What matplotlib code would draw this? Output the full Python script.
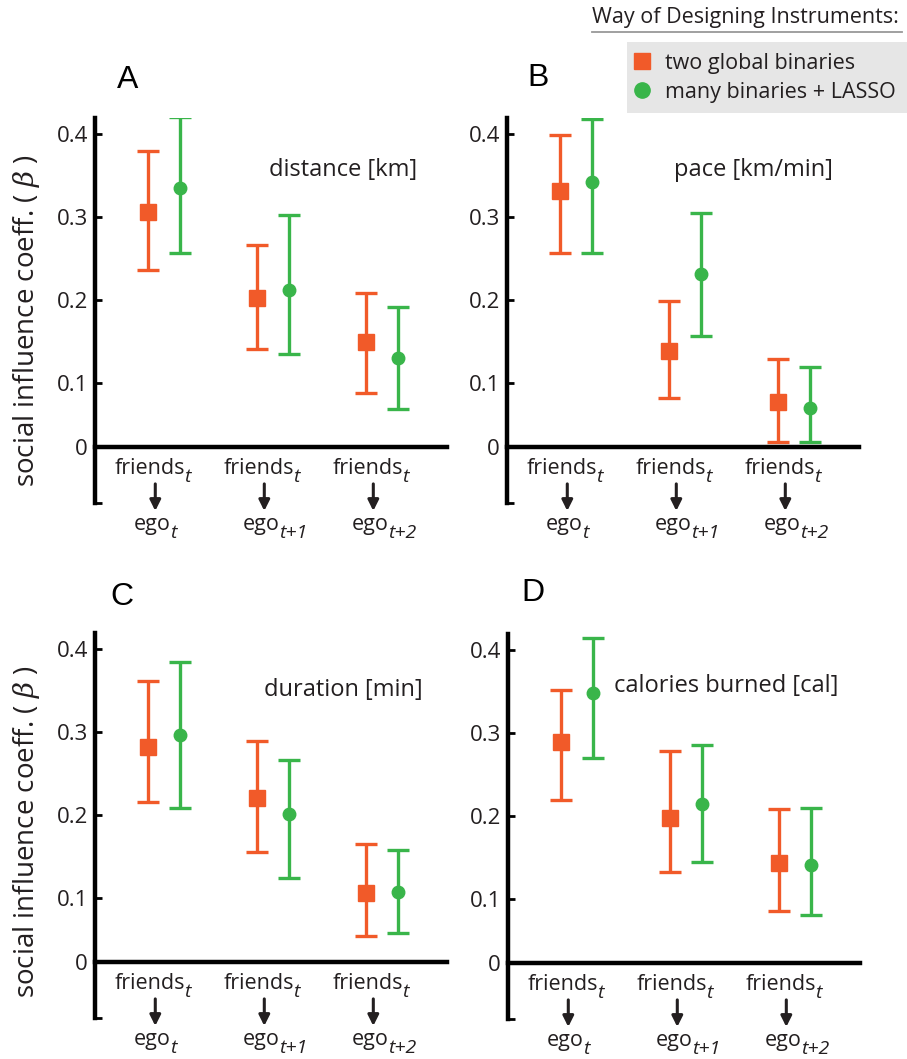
import matplotlib.pyplot as plt
from matplotlib.lines import Line2D
import numpy as np

plt.rcParams['font.family'] = ['Open Sans', 'DejaVu Sans']
plt.rcParams['mathtext.fontset'] = 'custom'
plt.rcParams['mathtext.rm'] = 'Open Sans'
plt.rcParams['mathtext.it'] = 'DejaVu Serif:italic:light'

# groups: friends_t -> ego_t, ego_t+1, ego_t+2
groups = [1, 2, 3]
ego_subs = ['t', 't+1', 't+2']
friends_sub = 't'

panel_letters = ['A', 'B', 'C', 'D']
measures = ['distance [km]', 'pace [km/min]', 'duration [min]', 'calories burned [cal]']

# A: distance
dist_two = [0.306, 0.203, 0.150]
dist_two_lo = [0.236, 0.141, 0.088]
dist_two_hi = [0.380, 0.266, 0.208]
dist_lasso = [0.335, 0.212, 0.130]
dist_lasso_lo = [0.257, 0.135, 0.069]
dist_lasso_hi = [0.420, 0.302, 0.192]

# B: pace
pace_two = [0.331, 0.139, 0.077]
pace_two_lo = [0.257, 0.082, 0.029]
pace_two_hi = [0.399, 0.199, 0.129]
pace_lasso = [0.342, 0.231, 0.070]
pace_lasso_lo = [0.257, 0.157, 0.029]
pace_lasso_hi = [0.418, 0.305, 0.119]

# C: duration
dur_two = [0.282, 0.220, 0.106]
dur_two_lo = [0.216, 0.156, 0.054]
dur_two_hi = [0.361, 0.289, 0.165]
dur_lasso = [0.296, 0.201, 0.107]
dur_lasso_lo = [0.208, 0.124, 0.058]
dur_lasso_hi = [0.384, 0.266, 0.158]

# D: calories
cal_two = [0.289, 0.197, 0.143]
cal_two_lo = [0.219, 0.132, 0.085]
cal_two_hi = [0.352, 0.278, 0.208]
cal_lasso = [0.348, 0.214, 0.141]
cal_lasso_lo = [0.270, 0.145, 0.081]
cal_lasso_hi = [0.415, 0.286, 0.210]

yticks = [0.1, 0.2, 0.3, 0.4]
series_names = ['two global binaries', 'many binaries + LASSO']

orange = '#F15A29'
green = '#39B54A'
dark = '#231F20'

W, H = 907, 1059
fig = plt.figure(figsize=(W / 100, H / 100), dpi=100)

def fx(px):
    return px / W

def fy(py):
    return 1 - py / H

ylo, yhi = -0.044, 0.419
xlo, xhi = 0.367, 3.596
base = 0.023       # where the "0" line is drawn
ppu = 830          # pixels per unit on y
ax_w = 352

# (left px, pixel of linear zero)
panel_pos = [(95, 466), (507, 466), (95, 981), (508, 982)]

panel_data = [
    (dist_two, dist_two_lo, dist_two_hi, dist_lasso, dist_lasso_lo, dist_lasso_hi),
    (pace_two, pace_two_lo, pace_two_hi, pace_lasso, pace_lasso_lo, pace_lasso_hi),
    (dur_two, dur_two_lo, dur_two_hi, dur_lasso, dur_lasso_lo, dur_lasso_hi),
    (cal_two, cal_two_lo, cal_two_hi, cal_lasso, cal_lasso_lo, cal_lasso_hi),
]

letter_pos = [(128, 80), (538, 78), (122, 597), (533, 593)]
measure_pos = [(417, 170), (833, 170), (423, 690), (838, 686)]


def sub_label(ax, x, y, word, sub):
    main = ax.text(x, y, word, ha='center', va='center', fontsize=15.5,
                   color=dark, clip_on=False)
    ax.annotate(sub, xy=(1, 0.5), xycoords=main, xytext=(-0.5, -6),
                textcoords='offset points', ha='left', va='center',
                fontsize=14, fontstyle='italic', color=dark,
                annotation_clip=False)


for i, (left, y0) in enumerate(panel_pos):
    top = y0 - yhi * ppu
    bottom = y0 - ylo * ppu
    ax = fig.add_axes([fx(left), fy(bottom), ax_w / W, (bottom - top) / H])
    two, two_lo, two_hi, las, las_lo, las_hi = [np.array(a) for a in panel_data[i]]
    x = np.array(groups, dtype=float)

    ax.errorbar(x - 0.15, two, yerr=[two - two_lo, two_hi - two], fmt='s',
                color=orange, ms=12, elinewidth=2.4, capsize=8, capthick=2.4)
    ax.errorbar(x + 0.15, las, yerr=[las - las_lo, las_hi - las], fmt='o',
                color=green, ms=9, elinewidth=2.4, capsize=8, capthick=2.4)

    ax.set_xlim(xlo, xhi)
    ax.set_ylim(ylo, yhi)
    ax.set_xticks([])
    ax.set_yticks([ylo, base] + yticks)
    ax.set_yticklabels([''] + ['0'] + [f'{t:.1f}' for t in yticks])
    ax.tick_params(axis='y', direction='in', length=5, width=2, labelsize=16,
                   pad=5, labelcolor=dark)
    for s in ['top', 'right']:
        ax.spines[s].set_visible(False)
    ax.spines['left'].set_linewidth(3.2)
    ax.spines['bottom'].set_linewidth(3.2)
    ax.spines['bottom'].set_position(('data', base))
    ax.patch.set_alpha(0)

    for g, esub in zip(groups, ego_subs):
        sub_label(ax, g - 0.13, base - 22 / ppu, 'friends', friends_sub)
        ax.annotate('', xy=(g - 0.08, base - 64 / ppu), xytext=(g - 0.08, base - 37 / ppu),
                    arrowprops=dict(arrowstyle='-|>', color=dark, lw=2.2,
                                    mutation_scale=16, shrinkA=0, shrinkB=0),
                    annotation_clip=False)
        sub_label(ax, g - 0.11, base - 78 / ppu, 'ego', esub)

    lx, ly = letter_pos[i]
    fig.text(fx(lx), fy(ly), panel_letters[i], ha='center', va='center',
             fontsize=23, family='Liberation Sans', color='black')
    mx, my = measure_pos[i]
    fig.text(fx(mx), fy(my), measures[i], ha='right', va='center',
             fontsize=17, color=dark)

# y labels
for yc in [321, 832]:
    fig.text(fx(27), fy(yc), r'social influence coeff. ( $\beta$ )', rotation=90,
             ha='center', va='center', fontsize=20, color=dark)

# legend
fig.text(fx(592), fy(17), 'Way of Designing Instruments:', ha='left', va='center',
         fontsize=15.5, color=dark)
fig.add_artist(Line2D([fx(592), fx(902)], [fy(32), fy(32)], transform=fig.transFigure,
                      color='#999999', lw=1.3))
handles = [Line2D([], [], marker='s', ls='none', color=orange, ms=12),
           Line2D([], [], marker='o', ls='none', color=green, ms=11)]
leg = fig.legend(handles, series_names, loc='upper right', bbox_to_anchor=(1.0, fy(42)),
                 frameon=True, facecolor='#E6E6E6', edgecolor='none', fancybox=False,
                 framealpha=1, fontsize=15.5, borderaxespad=0, borderpad=0.5,
                 handletextpad=0.9, labelspacing=0.37, handlelength=0.4)
for t in leg.get_texts():
    t.set_color(dark)

fig.savefig('out.png', dpi=100)
